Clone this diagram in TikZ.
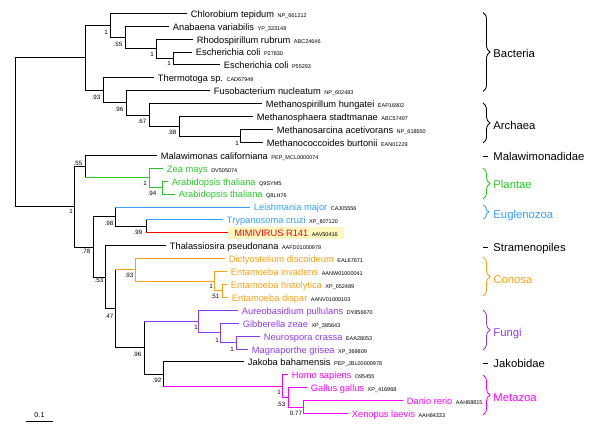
\documentclass[tikz,border=0pt]{standalone}
\usepackage{fontspec}
\setmainfont{Liberation Sans}
\usepackage{tikz}
\usetikzlibrary{decorations.pathreplacing}

\definecolor{plantgreen}{RGB}{40,200,40}
\definecolor{eugblue}{RGB}{50,160,255}
\definecolor{mimired}{RGB}{255,0,0}
\definecolor{conorange}{RGB}{255,160,20}
\definecolor{fungpurple}{RGB}{140,60,240}
\definecolor{metamag}{RGB}{255,0,255}
\definecolor{hilite}{RGB}{255,248,190}

\newcommand{\acc}[1]{\hspace{3.5bp}{\fontsize{5.5bp}{6bp}\selectfont\color{black}#1}}

\begin{document}
\begin{tikzpicture}[
    x=1bp, y=-1bp, line width=0.85bp,
    leaf/.style={anchor=west, inner xsep=3.5bp, inner ysep=0pt, text height=8bp, text depth=0pt, font=\fontsize{9.3bp}{11bp}\selectfont},
    boot/.style={inner sep=0pt, text height=4.4bp, text depth=0pt, font=\fontsize{6.2bp}{7bp}\selectfont},
    clade/.style={anchor=west, inner sep=0pt, text height=8.2bp, text depth=0pt, font=\fontsize{11.3bp}{13bp}\selectfont},
    cbrace/.style={decorate, decoration={brace, amplitude=7bp}}
]
\useasboundingbox (0,0) rectangle (600,438);

% Internal nodes
\coordinate (root) at (15,132.35);
\coordinate (prok) at (85,57.9);
\coordinate (bac)  at (110,25.4);
\coordinate (bacb) at (125,37.5);
\coordinate (bacc) at (156,48.8);
\coordinate (ecol) at (173,58.45);
\coordinate (thf)  at (103,90.4);
\coordinate (fua)  at (126,102.9);
\coordinate (arc)  at (149,115.0);
\coordinate (arcb) at (179,126.3);
\coordinate (arcc) at (240,135.95);
\coordinate (euk)  at (74,206.8);
\coordinate (malp) at (85,166.6);
\coordinate (pla)  at (149,177.9);
\coordinate (arab) at (162,187.55);
\coordinate (eun)  at (93,247.0);
\coordinate (eug)  at (115,216.7);
\coordinate (trm)  at (146,226.35);
\coordinate (euq)  at (105,277.25);
\coordinate (eur)  at (115,308.8);
\coordinate (con)  at (135,269.9);
\coordinate (ent)  at (214,281.2);
\coordinate (entb) at (222,290.85);
\coordinate (opi)  at (144,347.75);
\coordinate (fun)  at (198,321.5);
\coordinate (funb) at (220,332.8);
\coordinate (func) at (236,342.55);
\coordinate (jme)  at (163,374.0);
\coordinate (met)  at (282,386.1);
\coordinate (metb) at (288,397.4);
\coordinate (metc) at (303,407.05);

% Bacteria and Archaea
\node[leaf] (chl)  at (187,13.3)  {Chlorobium tepidum\acc{NP\_661212}};
\node[leaf] (ana)  at (169,26.2)  {Anabaena variabilis\acc{YP\_323148}};
\node[leaf] (rho)  at (193,39.1)  {Rhodospirillum rubrum\acc{ABC24646}};
\node[leaf] (eco1) at (192,52.0)  {Escherichia coli\acc{P27830}};
\node[leaf] (eco2) at (220,64.9)  {Escherichia coli\acc{P55293}};
\node[leaf] (the)  at (154,77.9)  {Thermotoga sp.\acc{CAD67949}};
\node[leaf] (fus)  at (210,90.8)  {Fusobacterium nucleatum\acc{NP\_602483}};
\node[leaf] (msp)  at (262,103.7) {Methanospirillum hungatei\acc{EAP16902}};
\node[leaf] (msph) at (253,116.6) {Methanosphaera stadtmanae\acc{ABC57497}};
\node[leaf] (msar) at (273,129.5) {Methanosarcina acetivorans\acc{NP\_618650}};
\node[leaf] (mcoc) at (263,142.4) {Methanococcoides burtonii\acc{EAN01229}};

% Eukaryotes
\node[leaf] (mal)  at (157,155.3) {Malawimonas californiana\acc{PEP\_MCL0000074}};
\node[leaf, text=plantgreen] (zea)  at (163,168.2) {Zea mays\acc{DV505074}};
\node[leaf, text=plantgreen] (ara1) at (168,181.1) {Arabidopsis thaliana\acc{Q9SYM5}};
\node[leaf, text=plantgreen] (ara2) at (175,194.0) {Arabidopsis thaliana\acc{Q8LH76}};
\node[leaf, text=eugblue] (lei) at (250,207.0) {Leishmania major\acc{CAJ05556}};
\node[leaf, text=eugblue] (try) at (223,219.9) {Trypanosoma cruzi\acc{XP\_807120}};
\node[leaf, text=mimired, fill=hilite, inner xsep=6bp, inner ysep=2bp] (mim) at (228,232.8) {MIMIVIRUS R141\acc{AAV50416}\hspace{4bp}};
\node[leaf] (tha)  at (166,245.7) {Thalassiosira pseudonana\acc{AAFD01000979}};
\node[leaf, text=conorange] (dic)  at (225,258.6) {Dictyostelium discoideum\acc{EAL67671}};
\node[leaf, text=conorange] (einv) at (227,271.5) {Entamoeba invadens\acc{AANW01000041}};
\node[leaf, text=conorange] (ehis) at (227,284.4) {Entamoeba histolytica\acc{XP\_652489}};
\node[leaf, text=conorange] (edis) at (228,297.3) {Entamoeba dispar\acc{AANV01000103}};
\node[leaf, text=fungpurple] (aur) at (238,310.2) {Aureobasidium pullulans\acc{DY856670}};
\node[leaf, text=fungpurple] (gib) at (239,323.1) {Gibberella zeae\acc{XP\_385643}};
\node[leaf, text=fungpurple] (neu) at (260,336.1) {Neurospora crassa\acc{EAA28053}};
\node[leaf, text=fungpurple] (mag) at (248,349.0) {Magnaporthe grisea\acc{XP\_369809}};
\node[leaf] (jak)  at (244,361.9) {Jakoba bahamensis\acc{PEP\_JBL00000978}};
\node[leaf, text=metamag] (hom) at (288,374.8) {Homo sapiens\acc{O95455}};
\node[leaf, text=metamag] (gal) at (307,387.7) {Gallus gallus\acc{XP\_416968}};
\node[leaf, text=metamag] (dan) at (403,400.6) {Danio rerio\acc{AAH68815}};
\node[leaf, text=metamag] (xen) at (348,413.5) {Xenopus laevis\acc{AAH84333}};

% Black branches
\foreach \p/\c in {root/prok, root/euk, prok/bac, prok/thf, bac/chl, bac/bacb,
    bacb/ana, bacb/bacc, bacc/rho, bacc/ecol, ecol/eco1, ecol/eco2, thf/the,
    thf/fua, fua/fus, fua/arc, arc/msp, arc/arcb, arcb/msph, arcb/arcc,
    arcc/msar, arcc/mcoc, euk/malp, euk/eun, malp/mal, eun/eug, eun/euq,
    eug/trm, euq/tha, euq/eur, eur/opi, opi/jme, jme/jak}
    \draw (\p) |- (\c);

% Coloured branches inside the clades
\foreach \p/\c/\col in {pla/zea/plantgreen, pla/arab/plantgreen,
    arab/ara1/plantgreen, arab/ara2/plantgreen,
    con/dic/conorange, con/ent/conorange, ent/einv/conorange,
    ent/entb/conorange, entb/ehis/conorange, entb/edis/conorange,
    fun/aur/fungpurple, fun/funb/fungpurple, funb/gib/fungpurple,
    funb/func/fungpurple, func/neu/fungpurple, func/mag/fungpurple,
    met/hom/metamag, met/metb/metamag, metb/gal/metamag,
    metb/metc/metamag, metc/dan/metamag, metc/xen/metamag}
    \draw[\col] (\p) |- (\c);

% Branches entering a clade: black stem, coloured arm
\foreach \p/\c/\col in {malp/pla/plantgreen, eug/lei/eugblue, trm/try/eugblue,
    trm/mim/mimired, eur/con/conorange, opi/fun/fungpurple, jme/met/metamag}
{
    \draw (\p) -- (\p |- \c);
    \draw[\col] (\p |- \c) -- (\c);
}

% Bootstrap values
\foreach \n/\x/\y/\v in {bac/106/32/1, bacb/118/44/.55, bacc/152/54/1,
    ecol/169/63/1, thf/96/97/.93, fua/119/109/.96, arc/142/121/.67,
    arcb/172/132/.98, arcc/237/143/1, euk/71/211/1, malp/78/163/.55,
    pla/145/183/1, arab/152/193/.94, eug/109/223/.98, trm/138/232/.99,
    eun/86/251/.78, euq/99/280/.53, con/129/275/.93, eur/109/316/.47,
    ent/211/286/1, entb/215/296/.51, opi/137/354/.96, fun/196/327/1,
    funb/217/340/1, func/232/349/1, jme/157/380/.92, met/279/392/1,
    metb/281/404/.53, metc/296/413/0.77}
    \node[boot] (b\n) at (\x,\y) {\v};

% Scale bar
\coordinate (sb0) at (26,421);
\coordinate (sb1) at (53,421);
\draw (sb0) -- (sb1);
\node[boot, font=\fontsize{7.2bp}{8bp}\selectfont, text height=5.2bp] (sbl) at (39.5,414.5) {0.1};

% Clade braces
\draw[cbrace] (483,12.5) -- (483,91.5);
\draw[cbrace] (483,103) -- (483,143);
\draw[cbrace, plantgreen] (483,168) -- (483,199);
\draw[cbrace, eugblue, decoration={amplitude=6bp}] (483,205) -- (483,219);
\draw[cbrace, conorange] (483,257) -- (483,296);
\draw[cbrace, fungpurple] (483,310) -- (483,350);
\draw[cbrace, metamag] (483,375) -- (483,415);
\draw (483,156) -- (487.5,156);
\draw (483,247) -- (487.5,247);
\draw (483,363) -- (487.5,363);

% Clade names
\node[clade] (lbac) at (493,53.5) {Bacteria};
\node[clade] (larc) at (493,125) {Archaea};
\node[clade] (lmal) at (493,156) {Malawimonadidae};
\node[clade, text=plantgreen] (lpla) at (493,184) {Plantae};
\node[clade, text=eugblue] (leug) at (493,214) {Euglenozoa};
\node[clade] (lstr) at (493,247) {Stramenopiles};
\node[clade, text=conorange] (lcon) at (493,279) {Conosa};
\node[clade, text=fungpurple] (lfun) at (493,332) {Fungi};
\node[clade] (ljak) at (493,363) {Jakobidae};
\node[clade, text=metamag] (lmet) at (493,397) {Metazoa};
\end{tikzpicture}
\end{document}
